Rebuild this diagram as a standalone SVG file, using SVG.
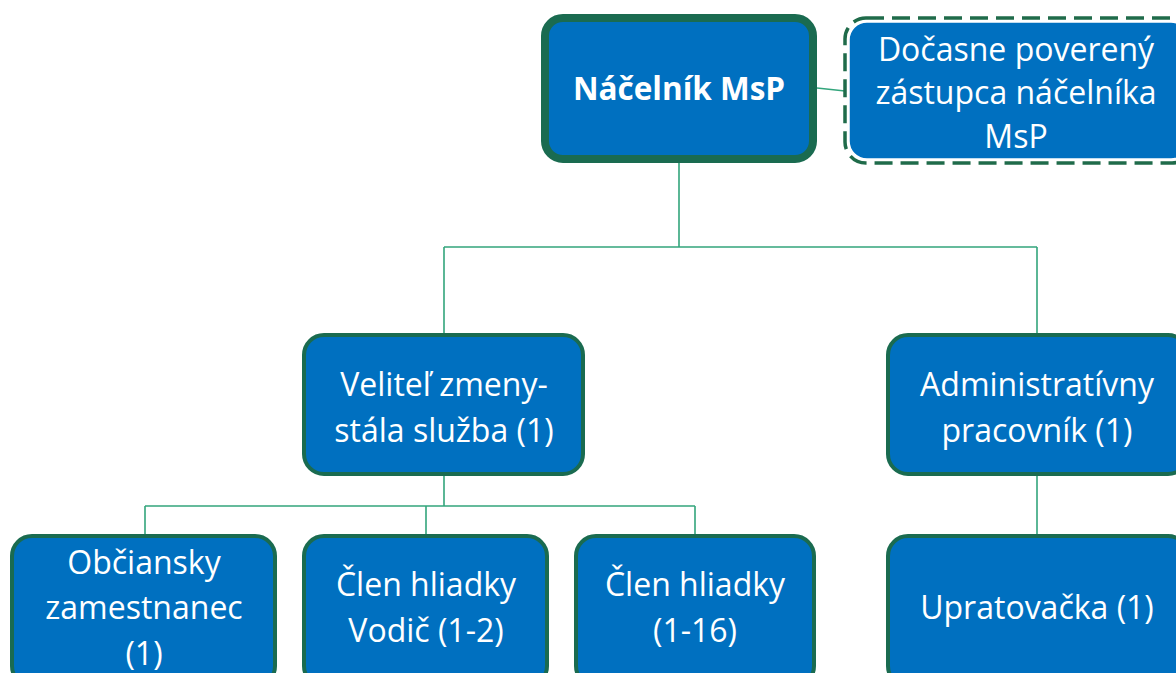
<svg xmlns="http://www.w3.org/2000/svg" width="1176" height="673" viewBox="0 0 1176 673">
<style>
.box{fill:#0070c0;stroke:#1a6b50;stroke-width:4}
.t{font-family:"Open Sans","Liberation Sans",sans-serif;font-size:32px;fill:#ffffff;text-anchor:middle}
.b{font-weight:bold;font-size:31.5px}
.c{fill:none;stroke:#33a57c;stroke-width:1.6}
</style>
<rect width="1176" height="673" fill="#ffffff"/>
<g id="connectors">
<path class="c" d="M679,163 V247 M444,247 H1037 M444,247 V333 M1037,247 V333"/>
<path class="c" d="M817,88 L845,91"/>
<path class="c" d="M444,476 V506 M145,506 H695 M145,506 V534 M426,506 V534 M695,506 V534"/>
<path class="c" d="M1037,476 V534"/>
</g>
<g id="nacelnik">
<rect x="545" y="18" width="268" height="141" rx="18" fill="#0070c0" stroke="#1a6b50" stroke-width="8"/>
<text class="t b" x="679" y="100">Náčelník MsP</text>
</g>
<g id="zastupca">
<rect x="849" y="22" width="340" height="137" rx="18" fill="#0070c0" stroke="#ffffff" stroke-width="1.5"/>
<rect x="845" y="18" width="348" height="145" rx="21" fill="none" stroke="#1f6b4a" stroke-width="3.5" stroke-dasharray="18 8"/>
<text class="t" x="1016" y="61">Dočasne poverený</text>
<text class="t" x="1016" y="104">zástupca náčelníka</text>
<text class="t" x="1016" y="148">MsP</text>
</g>
<g id="velitel">
<rect class="box" x="304" y="335" width="279" height="139" rx="20"/>
<text class="t" x="444" y="396">Veliteľ zmeny-</text>
<text class="t" x="444" y="442">stála služba (1)</text>
</g>
<g id="admin">
<rect class="box" x="888" y="335" width="300" height="139" rx="20"/>
<text class="t" x="1037" y="396">Administratívny</text>
<text class="t" x="1037" y="442">pracovník (1)</text>
</g>
<g id="obciansky">
<rect class="box" x="12" y="536" width="263" height="150" rx="20"/>
<text class="t" x="144" y="574">Občiansky</text>
<text class="t" x="144" y="619">zamestnanec</text>
<text class="t" x="144" y="665">(1)</text>
</g>
<g id="vodic">
<rect class="box" x="304" y="536" width="243" height="150" rx="20"/>
<text class="t" x="426" y="596">Člen hliadky</text>
<text class="t" x="426" y="642">Vodič (1-2)</text>
</g>
<g id="clen">
<rect class="box" x="576" y="536" width="238" height="150" rx="20"/>
<text class="t" x="695" y="596">Člen hliadky</text>
<text class="t" x="695" y="642">(1-16)</text>
</g>
<g id="upratovacka">
<rect class="box" x="888" y="536" width="300" height="150" rx="20"/>
<text class="t" x="1037" y="619">Upratovačka (1)</text>
</g>
</svg>
